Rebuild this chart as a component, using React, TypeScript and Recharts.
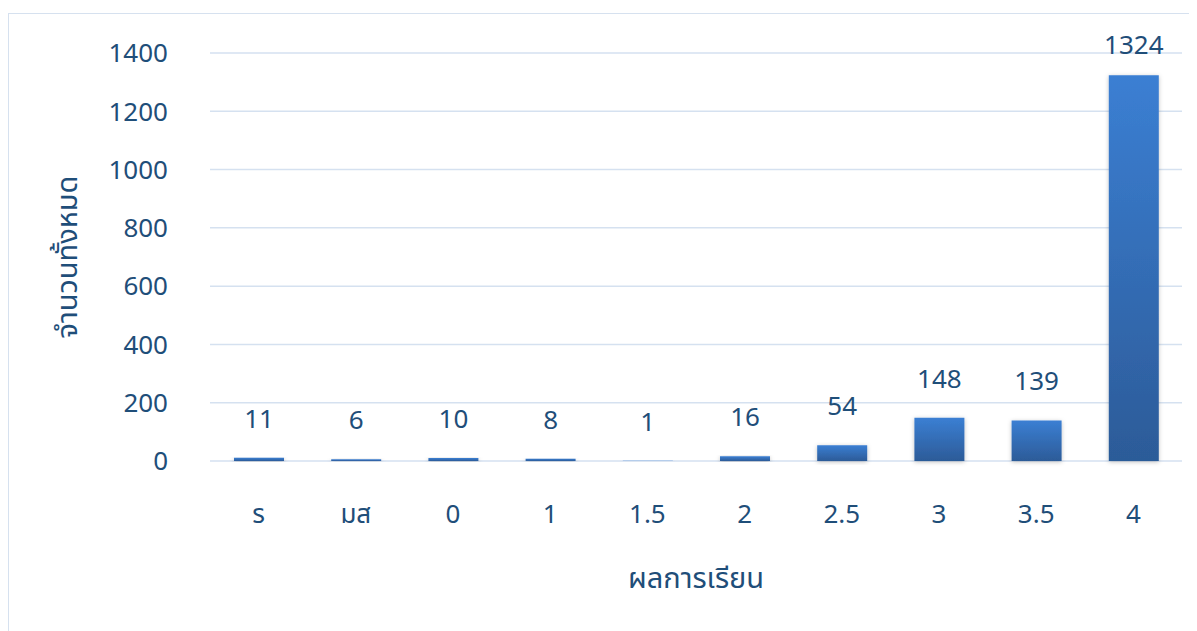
import React from "react";
import {
  BarChart,
  Bar,
  XAxis,
  YAxis,
  CartesianGrid,
  LabelList,
  Label,
} from "recharts";

// ค่าที่อ่านจากกราฟ
const grades = ["ร", "มส", "0", "1", "1.5", "2", "2.5", "3", "3.5", "4"];
const counts = [11, 6, 10, 8, 1, 16, 54, 148, 139, 1324];
const yTicks = [0, 200, 400, 600, 800, 1000, 1200, 1400];

const data = grades.map((g, i) => ({ grade: g, count: counts[i] }));

const TEXT = "#1F4E79";
const GRID = "#D5E1F0";
const FONT = "'Noto Sans', 'Noto Sans Thai', Tahoma, sans-serif";

// ป้ายค่าเหนือแท่ง: แท่งที่สูงเกินจะถูกดันลงให้อยู่ในกรอบ
const renderValue = (props: any) => {
  const { x, y, width, value } = props;
  const base = Math.max(y - 30, 40);
  return (
    <text
      x={x + width / 2}
      y={base}
      textAnchor="middle"
      fill={TEXT}
      fontSize={26}
      fontFamily={FONT}
    >
      {value}
    </text>
  );
};

export default function App() {
  return (
    <div
      style={{
        position: "relative",
        top: 5,
        width: 1200,
        height: 640,
        border: "1.5px solid #D6E1EF",
        boxSizing: "border-box",
        background: "#fff",
      }}
    >
      <BarChart
        width={1190}
        height={600}
        data={data}
        margin={{ top: 39, right: 17, left: 0, bottom: 23 }}
        style={{ fontFamily: FONT }}
      >
        <defs>
          <linearGradient id="barFill" x1="0" y1="0" x2="0" y2="1">
            <stop offset="0%" stopColor="#3B7FD3" />
            <stop offset="100%" stopColor="#2C5B98" />
          </linearGradient>
          <filter id="barShadow" x="-20%" y="-20%" width="140%" height="140%">
            <feDropShadow dx="0" dy="1" stdDeviation="2" floodColor="#000" floodOpacity="0.25" />
          </filter>
        </defs>
        <CartesianGrid vertical={false} stroke={GRID} strokeWidth={1.5} />
        <XAxis
          dataKey="grade"
          axisLine={false}
          tickLine={false}
          tickMargin={38}
          height={130}
          interval={0}
          tick={{ fill: TEXT, fontSize: 26, fontFamily: FONT }}
        >
          <Label
            value="ผลการเรียน"
            position="insideBottom"
            offset={3}
            fill={TEXT}
            fontSize={29}
            fontFamily={FONT}
          />
        </XAxis>
        <YAxis
          width={201}
          domain={[0, 1400]}
          ticks={yTicks}
          axisLine={false}
          tickLine={false}
          tickMargin={36}
          tick={{ fill: TEXT, fontSize: 26, fontFamily: FONT }}
        >
          <Label
            value="จำนวนทั้งหมด"
            angle={-90}
            position="insideLeft"
            offset={58}
            fill={TEXT}
            fontSize={29}
            fontFamily={FONT}
            style={{ textAnchor: "middle" }}
          />
        </YAxis>
        <Bar
          dataKey="count"
          barSize={50}
          fill="url(#barFill)"
          filter="url(#barShadow)"
          isAnimationActive={false}
        >
          <LabelList dataKey="count" content={renderValue} />
        </Bar>
      </BarChart>
    </div>
  );
}
